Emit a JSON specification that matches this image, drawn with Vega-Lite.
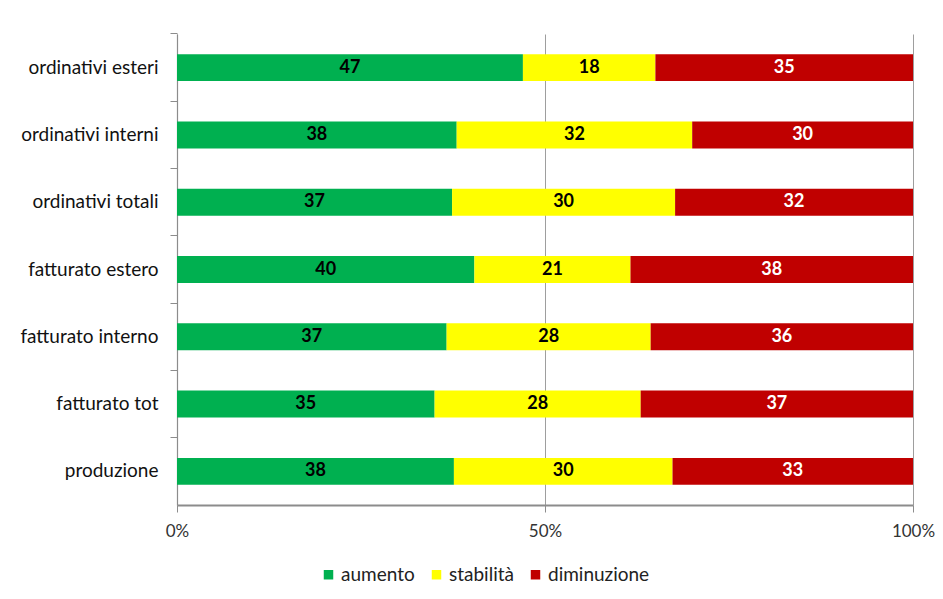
{
  "$schema": "https://vega.github.io/schema/vega-lite/v6.json",
  "width": 736,
  "height": 471,
  "autosize": "none",
  "padding": {"left": 177, "top": 34, "right": 30, "bottom": 94},
  "background": "white",
  "config": {
    "view": {"stroke": null},
    "font": "Lato",
    "axis": {"labelFont": "Lato", "labelFontSize": 17, "labelColor": "#333333", "domainColor": "#8c8c8c", "tickColor": "#8c8c8c", "tickSize": 7, "title": null}
  },
  "data": {
    "values": [
      {"voce": "ordinativi esteri", "esito": "aumento", "ord": 1, "v": 47},
      {"voce": "ordinativi esteri", "esito": "stabilità", "ord": 2, "v": 18},
      {"voce": "ordinativi esteri", "esito": "diminuzione", "ord": 3, "v": 35},
      {"voce": "ordinativi interni", "esito": "aumento", "ord": 1, "v": 38},
      {"voce": "ordinativi interni", "esito": "stabilità", "ord": 2, "v": 32},
      {"voce": "ordinativi interni", "esito": "diminuzione", "ord": 3, "v": 30},
      {"voce": "ordinativi totali", "esito": "aumento", "ord": 1, "v": 37},
      {"voce": "ordinativi totali", "esito": "stabilità", "ord": 2, "v": 30},
      {"voce": "ordinativi totali", "esito": "diminuzione", "ord": 3, "v": 32},
      {"voce": "fatturato estero", "esito": "aumento", "ord": 1, "v": 40},
      {"voce": "fatturato estero", "esito": "stabilità", "ord": 2, "v": 21},
      {"voce": "fatturato estero", "esito": "diminuzione", "ord": 3, "v": 38},
      {"voce": "fatturato interno", "esito": "aumento", "ord": 1, "v": 37},
      {"voce": "fatturato interno", "esito": "stabilità", "ord": 2, "v": 28},
      {"voce": "fatturato interno", "esito": "diminuzione", "ord": 3, "v": 36},
      {"voce": "fatturato tot", "esito": "aumento", "ord": 1, "v": 35},
      {"voce": "fatturato tot", "esito": "stabilità", "ord": 2, "v": 28},
      {"voce": "fatturato tot", "esito": "diminuzione", "ord": 3, "v": 37},
      {"voce": "produzione", "esito": "aumento", "ord": 1, "v": 38},
      {"voce": "produzione", "esito": "stabilità", "ord": 2, "v": 30},
      {"voce": "produzione", "esito": "diminuzione", "ord": 3, "v": 33}
    ]
  },
  "transform": [
    {"stack": "v", "groupby": ["voce"], "sort": [{"field": "ord", "order": "ascending"}], "offset": "normalize", "as": ["x0", "x1"]},
    {"calculate": "(datum.x0 + datum.x1) / 2", "as": "xm"}
  ],
  "encoding": {
    "y": {
      "field": "voce",
      "type": "nominal",
      "sort": ["ordinativi esteri", "ordinativi interni", "ordinativi totali", "fatturato estero", "fatturato interno", "fatturato tot", "produzione"],
      "scale": {"paddingInner": 0.6, "paddingOuter": 0.3},
      "axis": {"bandPosition": -0.75, "labelPadding": 12, "labelFontSize": 19, "labelColor": "#111111", "domainWidth": 1.2}
    }
  },
  "layer": [
    {
      "mark": {"type": "bar"},
      "encoding": {
        "x": {
          "field": "x0",
          "type": "quantitative",
          "scale": {"domain": [0, 1], "nice": false},
          "axis": {"values": [0, 0.5, 1], "format": ".0%", "grid": true, "gridColor": "#9e9e9e", "gridWidth": 1, "labelPadding": 11, "domainWidth": 2, "labelFlush": false}
        },
        "x2": {"field": "x1"},
        "color": {
          "field": "esito",
          "type": "nominal",
          "scale": {"domain": ["aumento", "stabilità", "diminuzione"], "range": ["#00B050", "#FFFF00", "#C00000"]},
          "legend": {
            "title": null,
            "orient": "none",
            "direction": "horizontal",
            "legendX": 142,
            "legendY": 531,
            "symbolType": "square",
            "symbolSize": 90,
            "symbolStrokeWidth": 0,
            "labelFont": "Lato",
            "labelFontSize": 19,
            "labelColor": "#222222",
            "labelOffset": 3,
            "columnPadding": 12
          }
        }
      }
    },
    {
      "mark": {"type": "text", "fontWeight": "bold", "fontSize": 18, "font": "Lato", "baseline": "middle", "align": "center"},
      "encoding": {
        "x": {"field": "xm", "type": "quantitative"},
        "text": {"field": "v", "type": "quantitative"},
        "color": {"condition": {"test": "datum.esito === 'diminuzione'", "value": "#ffffff"}, "value": "#000000"}
      }
    }
  ]
}
